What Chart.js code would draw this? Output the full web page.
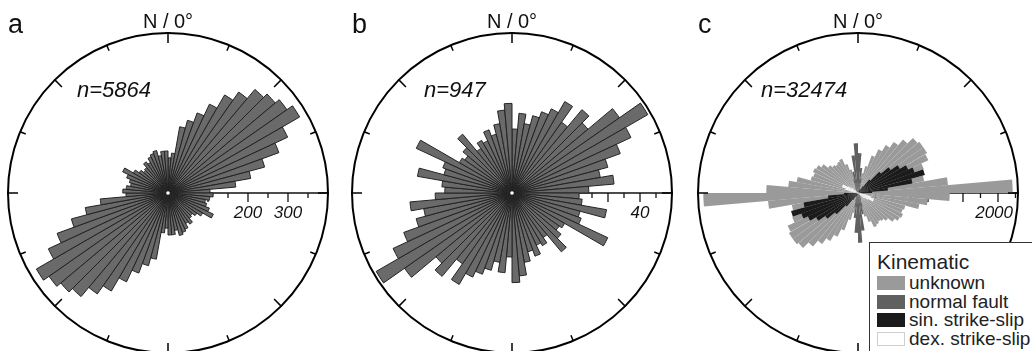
<!DOCTYPE html>
<html>
<head>
<meta charset="utf-8">
<script src="https://cdn.jsdelivr.net/npm/chart.js@4.4.1/dist/chart.umd.min.js"></script>
<style>
  html, body { margin: 0; padding: 0; background: #fff; width: 1032px; height: 351px; overflow: hidden; }
  canvas { position: absolute; top: 0; }
  #legend {
    position: absolute; left: 869px; top: 242px; width: 175px; height: 130px;
    border: 1.5px solid #333; background: #fff; color: #222;
    font-family: "Liberation Sans", Arial, sans-serif;
  }
  #legend .ttl { font-size: 21px; line-height: 21px; padding: 8px 0 0 7px; }
  #legend .rows { margin-top: 2px; }
  #legend .row { font-size: 19px; line-height: 18.5px; height: 18.5px; display: flex; align-items: center; white-space: nowrap; }
  #legend .sw { display: inline-block; width: 28px; height: 14px; margin: 0 4px 0 7px; box-sizing: border-box; }
</style>
</head>
<body>
<canvas id="roseA" width="340" height="386" style="left:-2px"></canvas>
<canvas id="roseB" width="340" height="386" style="left:342px"></canvas>
<canvas id="roseC" width="340" height="386" style="left:688px"></canvas>
<div id="legend"></div>
<script>
// strike bins, 5° wide, clockwise from north
const binLabels = ['0°','5°','10°','15°','20°','25°','30°','35°','40°','45°','50°','55°',
  '60°','65°','70°','75°','80°','85°','90°','95°','100°','105°','110°','115°',
  '120°','125°','130°','135°','140°','145°','150°','155°','160°','165°','170°','175°',
  '180°','185°','190°','195°','200°','205°','210°','215°','220°','225°','230°','235°',
  '240°','245°','250°','255°','260°','265°','270°','275°','280°','285°','290°','295°',
  '300°','305°','310°','315°','320°','325°','330°','335°','340°','345°','350°','355°'];

// counts per bin for 0–180°; strikes are axial, so each bin also shows at +180°
const countsA = [88, 100, 168, 188, 213, 245, 283, 308, 338, 350, 363, 380,
  330, 295, 250, 210, 170, 105, 113, 105, 95, 100, 110, 125,
  100, 88, 80, 83, 95, 88, 100, 105, 110, 95, 105, 105];
const countsB = [20, 25, 22, 25, 27, 29, 33, 27, 34, 31, 41, 49,
  41, 36, 31, 28, 32, 24, 21, 22, 30, 22, 23, 33,
  19, 18, 20, 24, 17, 19, 18, 21, 19, 22, 26, 28];

// panel c, one series per kinematic class
const kinematicNames = ['unknown', 'normal fault', 'sin. strike-slip', 'dex. strike-slip'];
const kinematicColors = ['#9a9a9a', '#606060', '#1b1b1b', '#ffffff'];
const unknownC = [140, 200, 290, 400, 570, 690, 790, 890, 1000, 1110, 1140, 1140,
  1110, 1000, 900, 960, 1290, 2210, 1310, 1000, 890, 700, 680, 710,
  690, 640, 560, 520, 500, 520, 540, 440, 350, 270, 200, 140];
const normalC = [570, 360, 210, 120, 80, 60, 50, 40, 35, 30, 30, 25,
  25, 30, 30, 35, 40, 45, 45, 40, 35, 30, 30, 25,
  25, 30, 35, 40, 50, 60, 80, 110, 200, 310, 540, 710];
const sinC = [10, 10, 15, 20, 30, 40, 60, 120, 250, 430, 570, 690,
  790, 860, 990, 790, 430, 200, 60, 30, 20, 15, 10, 10,
  10, 10, 10, 10, 10, 10, 10, 10, 10, 10, 10, 10];
const dexC = [15, 15, 15, 15, 15, 15, 15, 15, 15, 15, 15, 15,
  15, 15, 15, 15, 20, 30, 40, 60, 114, 186, 243, 243,
  171, 114, 60, 30, 20, 15, 15, 15, 15, 15, 15, 15];

// radial axis ticks
const axisLabelsA = [200, 300];
const axisLabelsB = [40];
const axisLabelsC = [2000];

const FONT = '"Liberation Sans", Arial, sans-serif';

const roseFrame = {
  id: 'roseFrame',
  beforeDatasetsDraw(chart, args, opts) {
    const s = chart.scales.r, ctx = chart.ctx;
    const cx = s.xCenter, cy = s.yCenter, R = s.drawingArea;
    ctx.save();
    ctx.strokeStyle = '#111';
    ctx.lineWidth = 1.6;
    ctx.beginPath();
    ctx.moveTo(cx, cy);
    ctx.lineTo(cx + R, cy);
    ctx.stroke();
    ctx.lineWidth = 1.3;
    for (let v = opts.minorStep; v < s.max; v += opts.minorStep) {
      const x = cx + s.getDistanceFromCenterForValue(v);
      const len = v % opts.majorStep === 0 ? 9 : 5;
      ctx.beginPath();
      ctx.moveTo(x, cy);
      ctx.lineTo(x, cy + len);
      ctx.stroke();
    }
    ctx.restore();
  },
  afterDatasetsDraw(chart, args, opts) {
    const s = chart.scales.r, ctx = chart.ctx;
    const cx = s.xCenter, cy = s.yCenter, R = s.drawingArea;
    ctx.save();
    ctx.strokeStyle = '#000';
    ctx.lineWidth = 2;
    ctx.beginPath();
    ctx.arc(cx, cy, R, 0, Math.PI * 2);
    ctx.stroke();
    // compass ticks every 22.5°
    ctx.lineWidth = 1.5;
    for (let k = 0; k < 16; k++) {
      const a = k * Math.PI / 8 - Math.PI / 2;
      const len = k % 2 === 0 ? 10 : 6;
      ctx.beginPath();
      ctx.moveTo(cx + Math.cos(a) * R, cy + Math.sin(a) * R);
      ctx.lineTo(cx + Math.cos(a) * (R - len), cy + Math.sin(a) * (R - len));
      ctx.stroke();
    }
    if (opts.dot) {
      ctx.fillStyle = '#fff';
      ctx.beginPath();
      ctx.arc(cx, cy, 1.8, 0, Math.PI * 2);
      ctx.fill();
    }
    ctx.fillStyle = '#111';
    ctx.textBaseline = 'alphabetic';
    ctx.textAlign = 'center';
    ctx.font = '20px ' + FONT;
    ctx.fillText('N / 0°', cx, cy - R - 5);
    ctx.textAlign = 'left';
    ctx.font = '27px ' + FONT;
    ctx.fillText(opts.letter, cx - R, cy - R);
    ctx.font = 'italic 22px ' + FONT;
    ctx.fillText(opts.count, cx + opts.countDx, cy - 96);
    ctx.font = 'italic 17px ' + FONT;
    ctx.textAlign = 'center';
    opts.labels.forEach(v => {
      const txt = String(v);
      const w = ctx.measureText(txt).width;
      let x = cx + s.getDistanceFromCenterForValue(v);
      x = Math.min(x, cx + R - 5 - w / 2);
      ctx.fillText(txt, x, cy + 25);
    });
    ctx.restore();
  }
};

function roseChart(id, datasets, max, frame) {
  return new Chart(document.getElementById(id), {
    type: 'polarArea',
    data: { labels: binLabels, datasets: datasets },
    options: {
      responsive: false,
      animation: false,
      events: [],
      layout: { padding: { left: 10, right: 10, top: 33, bottom: 33 } },
      scales: {
        r: {
          min: 0,
          max: max,
          startAngle: 0,
          ticks: { display: false },
          grid: { display: false },
          angleLines: { display: false },
          pointLabels: { display: false }
        }
      },
      plugins: {
        legend: { display: false },
        tooltip: { enabled: false },
        roseFrame: frame
      }
    },
    plugins: [roseFrame]
  });
}

const greyBars = { backgroundColor: '#6a6a6a', borderColor: '#222', borderWidth: 1 };

roseChart('roseA', [Object.assign({ data: countsA.concat(countsA) }, greyBars)], 400,
  { letter: 'a', count: 'n=5864', countDx: -91, minorStep: 50, majorStep: 100, labels: axisLabelsA, dot: true });

roseChart('roseB', [Object.assign({ data: countsB.concat(countsB) }, greyBars)], 50,
  { letter: 'b', count: 'n=947', countDx: -88, minorStep: 5, majorStep: 10, labels: axisLabelsB, dot: true });

const seriesC = [unknownC, normalC, sinC, dexC];
roseChart('roseC', seriesC.map((vals, i) => ({
  label: kinematicNames[i],
  data: vals.concat(vals),
  backgroundColor: kinematicColors[i],
  borderWidth: 0,
  order: seriesC.length - i
})), 2286,
  { letter: 'c', count: 'n=32474', countDx: -97, minorStep: 250, majorStep: 500, labels: axisLabelsC, dot: false });

// legend for panel c
const legend = document.getElementById('legend');
legend.innerHTML = '<div class="ttl">Kinematic</div><div class="rows">' +
  kinematicNames.map((name, i) =>
    '<div class="row"><span class="sw" style="background:' + kinematicColors[i] +
    (i === 3 ? ';border:1px solid #cfcfcf' : '') + '"></span>' + name + '</div>').join('') +
  '</div>';
</script>
</body>
</html>
